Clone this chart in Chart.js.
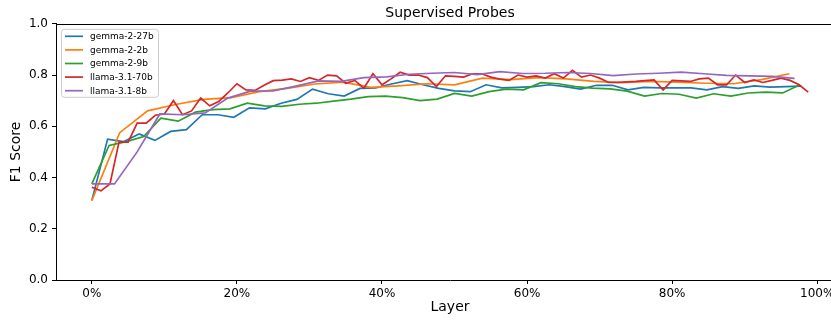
<!DOCTYPE html>
<html><head><meta charset="utf-8">
<script src="https://cdn.jsdelivr.net/npm/chart.js@4.4.1/dist/chart.umd.min.js"></script>
<style>html,body{margin:0;padding:0;overflow:hidden;background:#fff;width:831px;height:320px}#wrap{position:relative;width:831px;height:320px;overflow:hidden}#c{position:absolute;left:0;top:0}</style>
</head><body><div id="wrap"><canvas id="c" width="900" height="320"></canvas></div>
<script>
const models = ['gemma-2-27b', 'gemma-2-2b', 'gemma-2-9b', 'llama-3.1-70b', 'llama-3.1-8b'];
const layerCounts = [46, 26, 42, 80, 32];
const colors = ['#1f77b4', '#ff7f0e', '#2ca02c', '#d62728', '#9467bd'];

const gemma27b = [0.31, 0.55, 0.54, 0.57, 0.545, 0.58, 0.587, 0.645, 0.645, 0.635, 0.672, 0.668, 0.69, 0.705, 0.745, 0.727,
  0.718, 0.748, 0.75, 0.765, 0.778, 0.762, 0.748, 0.738, 0.735, 0.762, 0.75, 0.752, 0.755, 0.762, 0.755, 0.745,
  0.76, 0.76, 0.742, 0.752, 0.75, 0.75, 0.75, 0.742, 0.755, 0.748, 0.758, 0.753, 0.755, 0.757];
const gemma2b = [0.31, 0.575, 0.66, 0.685, 0.705, 0.712, 0.735, 0.748, 0.765, 0.772, 0.752, 0.758, 0.766, 0.762, 0.788, 0.782,
  0.79, 0.785, 0.775, 0.77, 0.775, 0.772, 0.768, 0.766, 0.782, 0.805];
const gemma9b = [0.375, 0.525, 0.54, 0.56, 0.632, 0.62, 0.655, 0.665, 0.668, 0.69, 0.68, 0.678, 0.686, 0.69, 0.698, 0.706,
  0.716, 0.718, 0.712, 0.70, 0.706, 0.728, 0.718, 0.735, 0.745, 0.742, 0.77, 0.766, 0.755, 0.749, 0.746, 0.737,
  0.718, 0.728, 0.725, 0.71, 0.727, 0.718, 0.73, 0.733, 0.73, 0.762];
const llama70b = [0.362, 0.348, 0.375, 0.538, 0.538, 0.612, 0.612, 0.643, 0.648, 0.70, 0.645, 0.66, 0.71, 0.68, 0.697, 0.73,
  0.766, 0.742, 0.74, 0.76, 0.778, 0.78, 0.785, 0.775, 0.79, 0.779, 0.80, 0.797, 0.768, 0.779, 0.749, 0.805,
  0.762, 0.785, 0.811, 0.80, 0.80, 0.79, 0.755, 0.797, 0.795, 0.792, 0.805, 0.805, 0.792, 0.784, 0.779, 0.80,
  0.792, 0.797, 0.788, 0.805, 0.788, 0.818, 0.792, 0.80, 0.788, 0.771, 0.771, 0.773, 0.775, 0.778, 0.781, 0.742,
  0.779, 0.777, 0.775, 0.785, 0.788, 0.762, 0.762, 0.80, 0.771, 0.781, 0.771, 0.779, 0.788, 0.779, 0.762, 0.733];
const llama8b = [0.375, 0.375, 0.50, 0.648, 0.645, 0.652, 0.71, 0.737, 0.738, 0.757, 0.777, 0.775, 0.79, 0.793, 0.803, 0.807,
  0.81, 0.802, 0.813, 0.806, 0.807, 0.81, 0.806, 0.798, 0.804, 0.807, 0.811, 0.805, 0.799, 0.797, 0.795, 0.787];

const seriesValues = [gemma27b, gemma2b, gemma9b, llama70b, llama8b];
const xTicks = [0, 20, 40, 60, 80, 100];
const yTicks = [0, 0.2, 0.4, 0.6, 0.8, 1.0];
const titleText = 'Supervised Probes';
const xTitle = 'Layer';
const yTitle = 'F1 Score';

const FONT = "'DejaVu Sans', sans-serif";
const AXIS = '#000000';

const datasets = models.map((m, i) => ({
  label: m,
  data: seriesValues[i].map((v, k) => ({ x: k / layerCounts[i] * 100, y: v })),
  borderColor: colors[i],
  backgroundColor: colors[i],
  borderWidth: 1.7,
  pointRadius: 0,
  tension: 0,
  fill: false,
  order: models.length - i
}));

const framePlugin = {
  id: 'frame',
  afterDatasetsDraw(chart) {
    const { ctx, chartArea: a } = chart;
    ctx.save();
    ctx.strokeStyle = AXIS;
    ctx.lineWidth = 1;
    ctx.beginPath();
    ctx.moveTo(a.left, Math.round(a.top) + 0.5);
    ctx.lineTo(a.right, Math.round(a.top) + 0.5);
    ctx.stroke();
    ctx.restore();
  }
};

const legendPlugin = {
  id: 'boxLegend',
  afterDraw(chart) {
    const { ctx, chartArea: a } = chart;
    const x0 = a.left + 5.5, y0 = a.top + 5.5, w = 97, h = 68, r = 3;
    ctx.save();
    ctx.beginPath();
    ctx.moveTo(x0 + r, y0);
    ctx.lineTo(x0 + w - r, y0); ctx.quadraticCurveTo(x0 + w, y0, x0 + w, y0 + r);
    ctx.lineTo(x0 + w, y0 + h - r); ctx.quadraticCurveTo(x0 + w, y0 + h, x0 + w - r, y0 + h);
    ctx.lineTo(x0 + r, y0 + h); ctx.quadraticCurveTo(x0, y0 + h, x0, y0 + h - r);
    ctx.lineTo(x0, y0 + r); ctx.quadraticCurveTo(x0, y0, x0 + r, y0);
    ctx.closePath();
    ctx.fillStyle = 'rgba(255,255,255,0.8)';
    ctx.fill();
    ctx.strokeStyle = '#cccccc';
    ctx.lineWidth = 1;
    ctx.stroke();
    ctx.font = '9px ' + FONT;
    ctx.textBaseline = 'middle';
    ctx.textAlign = 'left';
    chart.data.datasets.forEach((ds, i) => {
      const y = y0 + 7 + i * 13.6;
      ctx.strokeStyle = ds.borderColor;
      ctx.lineWidth = 1.7;
      ctx.beginPath();
      ctx.moveTo(x0 + 3.5, y);
      ctx.lineTo(x0 + 21.5, y);
      ctx.stroke();
      ctx.fillStyle = '#000';
      ctx.fillText(ds.label, x0 + 28.5, y + 0.5);
    });
    ctx.restore();
  }
};

new Chart(document.getElementById('c'), {
  type: 'line',
  data: { datasets },
  plugins: [framePlugin, legendPlugin],
  options: {
    responsive: false,
    devicePixelRatio: 1,
    animation: false,
    layout: { padding: { left: 0, right: 56, top: 0, bottom: 0 } },
    plugins: {
      legend: { display: false },
      tooltip: { enabled: false },
      title: {
        display: true, text: titleText, fullSize: false, color: '#000',
        font: { family: FONT, size: 14, weight: 'normal' },
        padding: { top: 5, bottom: 2 }
      }
    },
    scales: {
      x: {
        type: 'linear',
        min: -4.9375, max: 103.6875,
        afterFit(s) { s.height = 40; },
        afterBuildTicks(s) { s.ticks = xTicks.map(v => ({ value: v })); },
        ticks: { color: '#000', font: { family: FONT, size: 12 }, padding: 3, maxRotation: 0,
          callback: v => v + '%' },
        grid: { drawOnChartArea: false, drawTicks: true, tickLength: 4, color: AXIS },
        border: { display: true, color: AXIS, width: 1 },
        title: { display: true, text: xTitle, color: '#000', font: { family: FONT, size: 14 },
          padding: { top: 0, bottom: 4 } }
      },
      y: {
        type: 'linear',
        min: 0, max: 1,
        afterFit(s) { s.width = 56; },
        afterBuildTicks(s) { s.ticks = yTicks.map(v => ({ value: v })); },
        ticks: { color: '#000', font: { family: FONT, size: 12 }, padding: 4,
          callback: v => Number(v).toFixed(1) },
        grid: { drawOnChartArea: false, drawTicks: true, tickLength: 4, color: AXIS },
        border: { display: true, color: AXIS, width: 1 },
        title: { display: true, text: yTitle, color: '#000', font: { family: FONT, size: 14 },
          padding: { top: 8, bottom: 0 } }
      }
    }
  }
});
</script>
</body></html>
